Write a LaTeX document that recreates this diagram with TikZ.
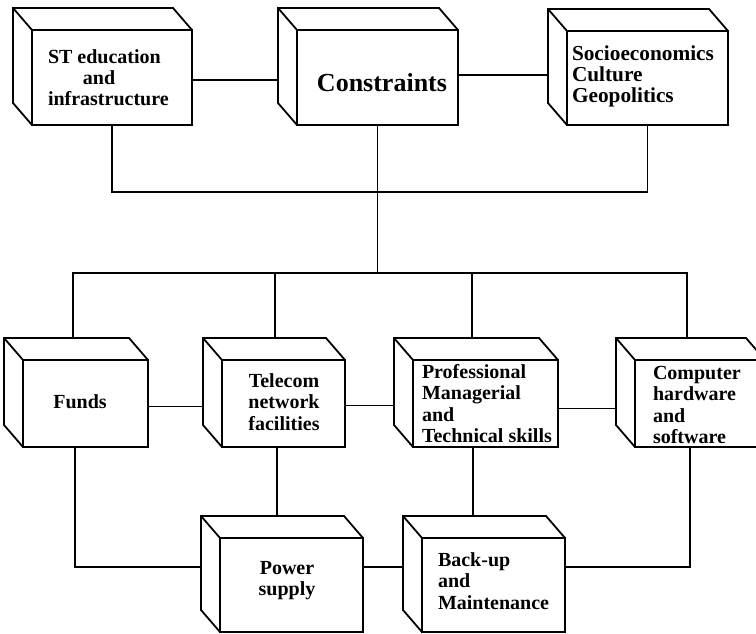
\documentclass[tikz,border=0pt]{standalone}
\usepackage{fontspec}
\setmainfont{Liberation Serif}
\newcommand\fl{\rule{0pt}{14pt}}
\newcommand\cubeframe[1]{%
  \draw[boxline] (#1.south west) -- ++(-19,-22) |- ([shift={(-19,-22)}]#1.north east) -- (#1.north east);
  \draw[boxline] (#1.north west) -- ++(-19,-22);
  \coordinate (#1-tl) at ([shift={(-19,-22)}]#1.north west);
  \coordinate (#1-w) at ([shift={(-19,-22)}]#1.west);
}
\tikzset{
  front/.style={draw, line width=1.8pt, fill=white, inner sep=0pt, outer sep=0pt},
  boxline/.style={line width=1.8pt, line join=miter},
  conn/.style={line width=1.5pt},
  txt/.style={inner sep=0pt, outer sep=0pt, font=\fontsize{20}{21.5}\selectfont\bfseries},
}
\begin{document}
\begin{tikzpicture}[x=1pt, y=-1pt]
\useasboundingbox (0,0) rectangle (756,634);
% top row
\node[front, minimum width=160pt, minimum height=95pt] (st) at (112,77.5) {};
\cubeframe{st}
\node[front, minimum width=161pt, minimum height=95pt] (con) at (377.5,77.5) {};
\cubeframe{con}
\node[front, minimum width=161pt, minimum height=94pt] (soc) at (647.5,78) {};
\cubeframe{soc}
% middle row
\node[front, minimum width=125pt, minimum height=87pt] (fun) at (85.5,403.5) {};
\cubeframe{fun}
\node[front, minimum width=123pt, minimum height=87pt] (tel) at (283.5,403.5) {};
\cubeframe{tel}
\node[front, minimum width=145pt, minimum height=87pt] (pro) at (485.5,403.5) {};
\cubeframe{pro}
\node[front, minimum width=130pt, minimum height=87pt] (cmp) at (700,403.5) {};
\cubeframe{cmp}
% bottom row
\node[front, minimum width=143pt, minimum height=94pt] (pow) at (291.5,585) {};
\cubeframe{pow}
\node[front, minimum width=143pt, minimum height=94pt] (bak) at (493.5,585) {};
\cubeframe{bak}
% texts
\node[txt, anchor=north west, align=left] (st-t) at (48,49) {\fl ST education\\\hspace*{35pt}and\\infrastructure};
\node[txt, font=\fontsize{26}{28}\selectfont\bfseries, anchor=base] (con-t) at (382,92) {Constraints};
\node[txt, anchor=north west, align=left, font=\fontsize{21.3}{21}\selectfont\bfseries] (soc-t) at (572,46) {\fl Socioeconomics\\Culture\\Geopolitics};
\node[txt, anchor=base] (fun-t) at (80,408) {Funds};
\node[txt, anchor=north, align=center] (tel-t) at (284,373) {\fl Telecom\\network\\facilities};
\node[txt, anchor=north west, align=left] (pro-t) at (422,364) {\fl Professional\\Managerial\\and\\Technical skills};
\node[txt, anchor=north west, align=left] (cmp-t) at (653,365) {\fl Computer\\hardware\\and\\software};
\node[txt, anchor=north, align=center, font=\fontsize{20}{21}\selectfont\bfseries] (pow-t) at (287,560) {\fl Power\\supply};
\node[txt, anchor=north west, align=left] (bak-t) at (438,552) {\fl Back-up\\and\\Maintenance};
% attachment points
\coordinate (bus1) at (377.5,192);
\coordinate (bus2) at (377.5,273);
\coordinate (fun-top) at (73,338);
\coordinate (tel-top) at (275,338);
\coordinate (pro-top) at (472,338);
\coordinate (cmp-top) at (687,338);
\coordinate (fun-bot) at (75,447);
\coordinate (tel-bot) at (277,447);
\coordinate (pro-bot) at (473,447);
\coordinate (cmp-bot) at (690,447);
% connectors
\draw[conn] ([yshift=-2.5pt]st.east) -- ([yshift=-2.5pt]st.east -| con-tl);
\draw[conn] ([yshift=2.5pt]con.east) -- ([yshift=2.5pt]con.east -| soc-tl);
\draw[conn] (st.south) |- (bus1) -| (soc.south);
\draw[conn] (con.south) -- (bus2);
\draw[conn] (fun-top) |- (bus2) -| (cmp-top);
\draw[conn] (tel-top) -- (tel-top |- bus2);
\draw[conn] (pro-top) -- (pro-top |- bus2);
\draw[conn] ([yshift=-3pt]fun.east) -- ([yshift=-3pt]fun.east -| tel-tl);
\draw[conn] ([yshift=-2pt]tel.east) -- ([yshift=-2pt]tel.east -| pro-tl);
\draw[conn] ([yshift=-5pt]pro.east) -- ([yshift=-5pt]pro.east -| cmp-tl);
\draw[conn] (fun-bot) |- ([yshift=18pt]pow.west -| pow-tl);
\draw[conn] (tel-bot) -- (tel-bot |- pow-tl);
\draw[conn] (pro-bot) -- (pro-bot |- bak-tl);
\draw[conn] ([yshift=18pt]pow.east) -- ([yshift=18pt]pow.east -| bak-tl);
\draw[conn] (cmp-bot) |- ([yshift=18pt]bak.east);
\end{tikzpicture}
\end{document}
